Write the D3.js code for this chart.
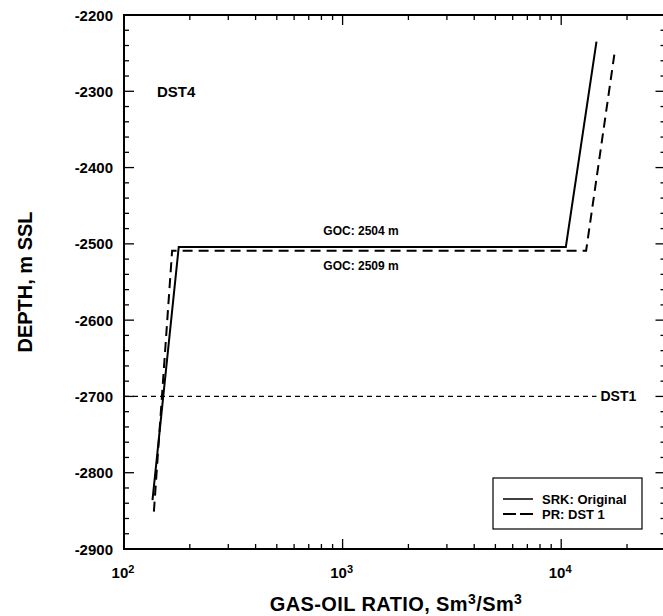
<!DOCTYPE html>
<html>
<head>
<meta charset="utf-8">
<script src="https://cdn.jsdelivr.net/npm/d3@7"></script>
<style>
  html, body { margin: 0; padding: 0; background: #fff; }
  svg { display: block; }
  text { font-family: "Liberation Sans", Arial, Helvetica, sans-serif; font-weight: bold; fill: #000; }
</style>
</head>
<body>
<svg id="chart" width="663" height="616"></svg>
<script>
// Gas-oil ratio vs depth, two EOS models
const srkGor   = [135, 178, 10500, 14500];
const srkDepth = [-2836, -2504, -2504, -2235];
const prGor    = [137, 166, 13000, 17500];
const prDepth  = [-2851, -2509, -2509, -2252];

// DST1 reference depth line
const dst1Gor   = [100, 14500];
const dst1Depth = [-2700, -2700];

const yTicks = [-2200, -2300, -2400, -2500, -2600, -2700, -2800, -2900];
const xTicks = [100, 1000, 10000];
const xTickExp = ["2", "3", "4"];

const legendLabels = ["SRK: Original", "PR: DST 1"];
const gocLabels = ["GOC: 2504 m", "GOC: 2509 m"];

const svg = d3.select("#chart");
const L = 124, R = 665.5, T = 15, B = 549;

const x = d3.scaleLog().domain([100, 30000]).range([L, R]);
const y = d3.scaleLinear().domain([-2200, -2900]).range([T, B]);

// minor ticks
const xMinor = [];
for (let d = 100; d < 30000; d *= 10) {
  for (let k = 2; k <= 9; k++) if (d * k <= 30000) xMinor.push(d * k);
}
const yMinor = d3.range(-2200, -2901, -20).filter(v => v % 100 !== 0);

const g = svg.append("g");

// frame
g.append("rect").attr("x", L).attr("y", T).attr("width", R - L).attr("height", B - T)
  .attr("fill", "none").attr("stroke", "#000").attr("stroke-width", 2);

// bottom & top ticks (inward)
const xt = g.append("g").attr("stroke", "#000").attr("stroke-width", 1.3);
xMinor.forEach(v => {
  xt.append("line").attr("x1", x(v)).attr("x2", x(v)).attr("y1", B).attr("y2", B - 5);
  xt.append("line").attr("x1", x(v)).attr("x2", x(v)).attr("y1", T).attr("y2", T + 5);
});
xTicks.forEach(v => {
  xt.append("line").attr("x1", x(v)).attr("x2", x(v)).attr("y1", B).attr("y2", B - 10);
  xt.append("line").attr("x1", x(v)).attr("x2", x(v)).attr("y1", T).attr("y2", T + 10);
});

// left & right ticks (inward)
const yt = g.append("g").attr("stroke", "#000").attr("stroke-width", 1.3);
yMinor.forEach(v => {
  yt.append("line").attr("x1", L).attr("x2", L + 5).attr("y1", y(v)).attr("y2", y(v));
  yt.append("line").attr("x1", R).attr("x2", R - 5).attr("y1", y(v)).attr("y2", y(v));
});
yTicks.forEach(v => {
  yt.append("line").attr("x1", L).attr("x2", L + 10).attr("y1", y(v)).attr("y2", y(v));
  yt.append("line").attr("x1", R).attr("x2", R - 10).attr("y1", y(v)).attr("y2", y(v));
});

// y tick labels
g.selectAll(".ylab").data(yTicks).enter().append("text")
  .attr("x", L - 11).attr("y", d => y(d) + 5.5)
  .attr("text-anchor", "end").attr("font-size", 15)
  .text(d => d);

// x tick labels with superscript exponent
xTicks.forEach((v, i) => {
  const t = g.append("text").attr("x", x(v) - 1).attr("y", 578)
    .attr("text-anchor", "middle").attr("font-size", 15);
  t.append("tspan").text("10");
  t.append("tspan").attr("dy", -5).attr("font-size", 11).text(xTickExp[i]);
});

// axis titles
const xt2 = g.append("text").attr("x", 396).attr("y", 611).attr("text-anchor", "middle")
  .attr("font-size", 20).attr("letter-spacing", 0.4);
xt2.append("tspan").text("GAS-OIL RATIO, Sm");
xt2.append("tspan").attr("dy", -7).attr("font-size", 14).text("3");
xt2.append("tspan").attr("dy", 7).text("/Sm");
xt2.append("tspan").attr("dy", -7).attr("font-size", 14).text("3");

g.append("text").attr("transform", `translate(32,${(T + B) / 2}) rotate(-90)`)
  .attr("text-anchor", "middle").attr("font-size", 20).text("DEPTH, m SSL");

// data lines
const line = d3.line().x(d => x(d[0])).y(d => y(d[1]));

g.append("path").datum(dst1Gor.map((v, i) => [v, dst1Depth[i]]))
  .attr("d", line).attr("fill", "none").attr("stroke", "#000")
  .attr("stroke-width", 1.2).attr("stroke-dasharray", "5,4");

g.append("path").datum(prGor.map((v, i) => [v, prDepth[i]]))
  .attr("d", line).attr("fill", "none").attr("stroke", "#000")
  .attr("stroke-width", 2).attr("stroke-dasharray", "10,6");

g.append("path").datum(srkGor.map((v, i) => [v, srkDepth[i]]))
  .attr("d", line).attr("fill", "none").attr("stroke", "#000")
  .attr("stroke-width", 2);

// annotations
g.append("text").attr("x", 157).attr("y", y(-2300) + 5.5).attr("font-size", 15).text("DST4");
g.append("text").attr("x", x(dst1Gor[1]) + 4).attr("y", y(-2700) + 5).attr("font-size", 14).text("DST1");
g.append("text").attr("x", 361).attr("y", y(srkDepth[1]) - 12).attr("text-anchor", "middle").attr("font-size", 12).text(gocLabels[0]);
g.append("text").attr("x", 361).attr("y", y(prDepth[1]) + 19).attr("text-anchor", "middle").attr("font-size", 12).text(gocLabels[1]);

// legend
const lg = g.append("g");
lg.append("rect").attr("x", 493).attr("y", 478).attr("width", 149).attr("height", 51)
  .attr("fill", "#fff").attr("stroke", "#000").attr("stroke-width", 1.2);
[["none", 499], ["13,4", 514]].forEach((d, i) => {
  lg.append("line").attr("x1", 503).attr("x2", 533).attr("y1", d[1]).attr("y2", d[1])
    .attr("stroke", "#000").attr("stroke-width", i === 0 ? 1.5 : 2)
    .attr("stroke-dasharray", d[0] === "none" ? null : d[0]);
  lg.append("text").attr("x", 542).attr("y", d[1] + 4.5).attr("font-size", 13).text(legendLabels[i]);
});
</script>
</body>
</html>
